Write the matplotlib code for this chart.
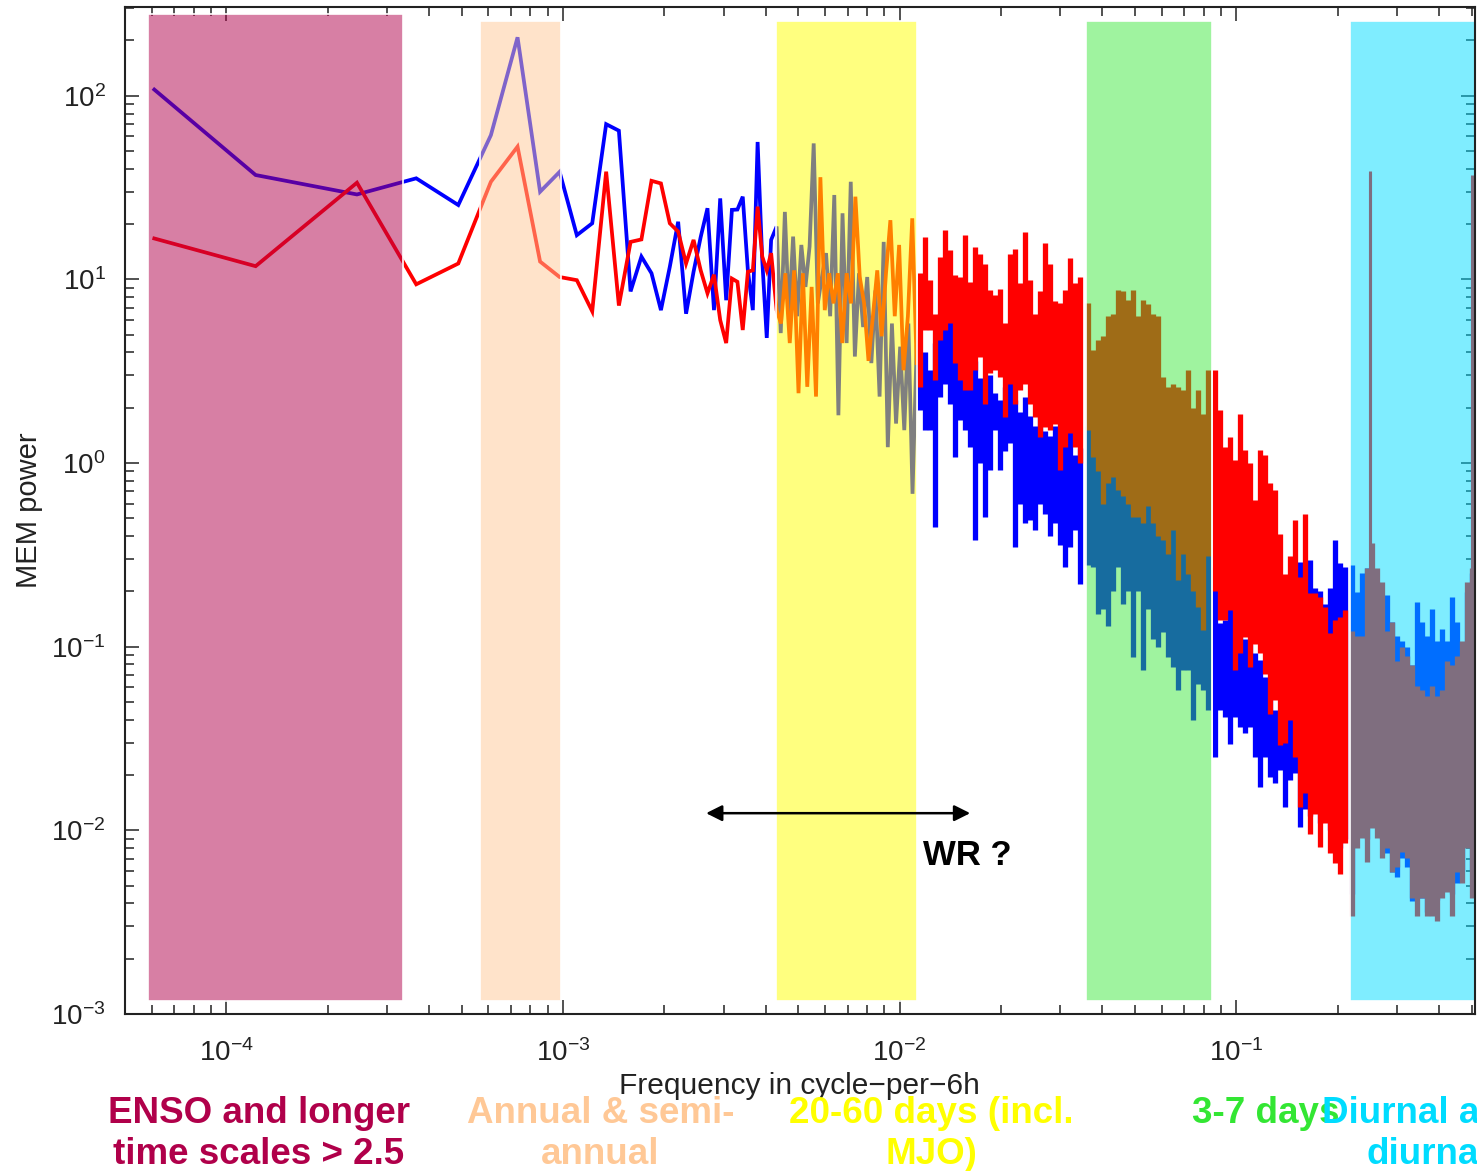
import numpy as np
import matplotlib
matplotlib.use("Agg")
import matplotlib.pyplot as plt
from matplotlib.colors import to_rgba

plt.rcParams['font.family'] = ['Liberation Sans', 'DejaVu Sans']
plt.rcParams['mathtext.default'] = 'regular'

# ------------------------------------------------------------------ data
# MEM spectra (power) vs frequency in cycle-per-6h
bin_width = 1.0 / 8192.0
low_bins = [0.5, 1, 2, 3, 4, 5, 6, 7, 8, 9, 10, 11, 12, 13, 14, 15, 16, 17,
            18, 19, 20, 21, 22, 23, 24, 25, 26, 27, 28, 29, 30, 31, 32, 33, 34]
blue_low = [108, 37, 29, 35.5, 25.4, 61, 208, 30, 38.5, 17.4, 20.2, 70, 64.5,
            8.6, 13.3, 10.8, 6.8, 11.7, 20.6, 6.5, 11, 17, 24.4, 6.8, 27.6,
            7.7, 23.9, 24, 28.2, 11.2, 6.8, 56, 12.7, 4.8, 16.4]
red_low = [16.7, 11.8, 33.6, 9.4, 12.2, 34, 52.8, 12.5, 10.3, 9.9, 6.7, 38.6,
           7.2, 16, 16.5, 34.4, 33.3, 20.2, 18.2, 12.2, 16.4, 11.2, 8.4, 10.6,
           6.0, 4.5, 10.1, 9.7, 5.3, 11, 11.2, 24.9, 13.3, 11.2, 13.9]

# 20-60 day window (individual oscillations still resolved)
mjo_freq_range = (4.31e-3, 1.123e-2)
blue_mjo = [19.4, 5.1, 23.3, 6.3, 17.1, 6.3, 15.4, 9.1, 15.1, 55, 7.4, 10.3,
            13.9, 6.3, 28.8, 1.82, 22.9, 4.5, 34, 3.8, 10.8, 5.5, 10.3, 3.5,
            8.7, 2.3, 16, 1.22, 5.75, 1.64, 4.3, 1.51, 5.75, 0.68, 4.3]
red_mjo = [6.8, 5.75, 10.8, 4.5, 11.2, 2.4, 10.8, 2.6, 9.1, 2.3, 36, 6.8, 10.8,
           7.4, 10.8, 4.5, 10.8, 7.4, 28.2, 10.3, 7.4, 3.6, 6.3, 11.2, 4.9,
           10.8, 21, 6.3, 15.4, 3.2, 6.3, 21.5, 3.5]

# dense part: lower / upper excursion of each spectrum per frequency column
dense_b_range = (0.01149, 0.0343)
red_hi_b = [10.8, 17.1, 9.9, 6.5, 13.3, 18.6, 14.4, 10.6, 10.3, 17.4, 9.7, 15.1,
            13.8, 12.2, 8.7, 8.2, 8.9, 5.8, 13.8, 14.7, 9.5, 18.2, 9.9, 6.5, 8.6,
            15.7, 12.2, 7.6, 7.4, 8.7, 13.0, 9.5, 10.3]
red_lo_b = [2.6, 5.3, 5.3, 2.83, 4.7, 5.3, 5.8, 3.5, 2.83, 2.5, 2.5, 3.2, 3.8,
            2.1, 3.1, 3.2, 2.95, 1.79, 2.71, 2.1, 2.5, 2.71, 2.1, 1.79, 1.39,
            1.58, 1.51, 1.64, 0.915, 1.23, 1.45, 1.23, 1.0]
blue_hi_b = [3.5, 4.0, 3.2, 4.5, 6.5, 8.0, 7.0, 4.0, 3.2, 3.5, 2.8, 3.6, 2.9,
             2.6, 3.0, 2.4, 2.2, 2.6, 3.1, 2.2, 1.9, 2.3, 1.8, 1.6, 2.0, 1.5,
             1.4, 1.6, 1.2, 1.3, 1.5, 1.1, 1.2]
blue_lo_b = [1.94, 1.51, 1.51, 0.45, 2.3, 2.71, 2.1, 1.08, 1.71, 1.51, 1.23,
             0.38, 1.0, 0.51, 0.915, 1.51, 0.915, 1.17, 1.28, 0.35, 0.60, 0.47,
             0.49, 0.43, 0.60, 0.53, 0.40, 0.47, 0.36, 0.27, 0.35, 0.43, 0.22]

dense_c_range = (0.03624, 0.0823)
red_hi_c = [7.4, 4.1, 4.7, 4.9, 6.3, 6.5, 8.7, 8.6, 7.7, 8.7, 6.3, 7.7, 7.3,
            6.5, 6.3, 2.95, 2.6, 2.7, 2.6, 2.5, 3.2, 2.0, 2.5, 1.86, 3.2]
red_lo_c = [1.51, 1.08, 0.91, 0.60, 0.78, 0.84, 0.71, 0.66, 0.60, 0.51, 0.51,
            0.47, 0.58, 0.47, 0.40, 0.38, 0.32, 0.43, 0.23, 0.32, 0.25, 0.20,
            0.165, 0.123, 0.31]
blue_hi_c = [1.6, 1.3, 1.0, 0.75, 0.9, 1.2, 0.8, 0.75, 1.08, 0.91, 0.6, 0.55,
             0.88, 0.55, 0.48, 0.45, 0.71, 0.5, 0.3, 0.38, 0.3, 0.25, 0.2,
             0.16, 0.35]
blue_lo_c = [0.28, 0.27, 0.15, 0.16, 0.13, 0.20, 0.27, 0.17, 0.20, 0.088, 0.20,
             0.075, 0.16, 0.11, 0.10, 0.12, 0.088, 0.078, 0.058, 0.075, 0.075,
             0.040, 0.063, 0.058, 0.045]

dense_d_range = (0.0864, 0.2102)
red_hi_d = [3.2, 1.94, 1.23, 1.39, 1.04, 1.86, 1.18, 1.0, 0.63, 1.18, 1.10,
            0.78, 0.71, 0.41, 0.25, 0.31, 0.49, 0.24, 0.53, 0.195, 0.195,
            0.187, 0.165, 0.118, 0.14, 0.146, 0.158]
red_lo_d = [0.2, 0.14, 0.14, 0.158, 0.075, 0.092, 0.113, 0.078, 0.104, 0.092,
            0.071, 0.043, 0.051, 0.029, 0.030, 0.040, 0.025, 0.0134, 0.0159,
            0.0096, 0.0123, 0.0081, 0.0109, 0.0075, 0.0066, 0.0058, 0.0085]
blue_hi_d = [0.272, 0.134, 0.14, 0.165, 0.11, 0.122, 0.11, 0.104, 0.092, 0.085,
             0.068, 0.056, 0.045, 0.037, 0.040, 0.13, 0.25, 0.29, 0.24, 0.296,
             0.21, 0.2, 0.17, 0.21, 0.38, 0.287, 0.27]
blue_lo_d = [0.0251, 0.045, 0.0415, 0.0297, 0.0415, 0.0366, 0.0337, 0.0366,
             0.0251, 0.0173, 0.0251, 0.0196, 0.018, 0.0213, 0.0134, 0.0188,
             0.0204, 0.0104, 0.013, 0.012, 0.014, 0.011, 0.012, 0.010, 0.009,
             0.008, 0.009]

dense_e_range = (0.2206, 0.5)
red_hi_e = [0.121, 0.114, 0.114, 0.269, 0.366, 0.269, 0.224, 0.121, 0.137,
            0.084, 0.10, 0.089, 0.079, 0.061, 0.058, 0.054, 0.061, 0.054,
            0.058, 0.084, 0.079, 0.089, 0.107, 0.224, 0.269]
red_lo_e = [0.0034, 0.008, 0.0091, 0.0067, 0.0103, 0.0091, 0.0071, 0.008,
            0.0059, 0.0063, 0.0076, 0.0071, 0.0043, 0.0034, 0.0043, 0.0034,
            0.0034, 0.0032, 0.0043, 0.0046, 0.0034, 0.0059, 0.0052, 0.008,
            0.0043]
blue_hi_e = [0.278, 0.198, 0.253, 0.269, 0.236, 0.224, 0.186, 0.192, 0.137,
             0.114, 0.107, 0.10, 0.079, 0.175, 0.137, 0.114, 0.16, 0.107,
             0.125, 0.107, 0.186, 0.137, 0.10, 0.198, 0.253]
blue_lo_e = [0.0045, 0.0095, 0.011, 0.009, 0.012, 0.011, 0.009, 0.0075, 0.0059,
             0.0056, 0.0071, 0.0063, 0.0041, 0.0043, 0.0043, 0.0036, 0.0036,
             0.0042, 0.005, 0.0055, 0.0045, 0.0052, 0.006, 0.0095, 0.006]

# diurnal and semi-diurnal peaks
tide_freq = [0.25, 0.5]
tide_base = [0.2, 0.2]
blue_tide_peak = [38, 36]
red_tide_peak = [39, 37]

# highlighted frequency windows
band_names = ['ENSO and longer\ntime scales > 2.5', 'Annual & semi-\nannual',
              '20-60 days (incl.\nMJO)', '3-7 days', 'Diurnal and semi-\ndiurnal']
band_f0 = [5.85e-5, 5.68e-4, 4.29e-3, 0.0358, 0.218]
band_f1 = [3.34e-4, 9.86e-4, 1.125e-2, 0.0847, 0.53]
band_top = [279, 255, 255, 255, 255]
band_bottom = 1.17e-3
band_colors = ['#B0004A', '#FFC896', '#FFFF00', '#33E633', '#00DCFF']
band_alpha = [0.5, 0.5, 0.5, 0.47, 0.5]

wr_range = (2.66e-3, 0.0162)
wr_level = 0.0124

# ------------------------------------------------------------------ figure
W, H = 1477, 1171
fig = plt.figure(figsize=(W / 100, H / 100), dpi=100)
ax = fig.add_axes([125 / W, (H - 1014) / H, (1474.5 - 125) / W, (1014 - 7.3) / H])
ax.set_xscale('log')
ax.set_yscale('log')
ax.set_xlim(4.995e-5, 0.5102)
ax.set_ylim(1e-3, 303)

BLUE = '#0000FF'
RED = '#FF0000'
LW = 2.7
COL_LW = 3.8

low_freq = np.array(low_bins) * bin_width


def dense(lo, hi, frange, color, z):
    f = np.geomspace(frange[0], frange[1], len(lo))
    ax.vlines(f, lo, hi, colors=color, lw=COL_LW, zorder=z)


# blue series
fm_b = np.geomspace(mjo_freq_range[0], mjo_freq_range[1], len(blue_mjo))
ax.plot(np.concatenate([low_freq, fm_b]), np.concatenate([blue_low, blue_mjo]),
        color=BLUE, lw=LW, zorder=2, solid_joinstyle='miter')
for lo, hi, rg in [(blue_lo_b, blue_hi_b, dense_b_range), (blue_lo_c, blue_hi_c, dense_c_range),
                   (blue_lo_d, blue_hi_d, dense_d_range), (blue_lo_e, blue_hi_e, dense_e_range)]:
    dense(lo, hi, rg, BLUE, 2)
ax.vlines(tide_freq, tide_base, blue_tide_peak, colors=BLUE, lw=2.2, zorder=2)

# red series
fm_r = np.geomspace(mjo_freq_range[0], mjo_freq_range[1], len(red_mjo))
ax.plot(np.concatenate([low_freq, fm_r]), np.concatenate([red_low, red_mjo]),
        color=RED, lw=LW, zorder=3, solid_joinstyle='miter')
for lo, hi, rg in [(red_lo_b, red_hi_b, dense_b_range), (red_lo_c, red_hi_c, dense_c_range),
                   (red_lo_d, red_hi_d, dense_d_range), (red_lo_e, red_hi_e, dense_e_range)]:
    dense(lo, hi, rg, RED, 3)
ax.vlines(tide_freq, tide_base, red_tide_peak, colors=RED, lw=2.2, zorder=3)

# translucent windows on top
for f0, f1, top, c, a in zip(band_f0, band_f1, band_top, band_colors, band_alpha):
    ax.fill_between([f0, f1], band_bottom, top, facecolor=to_rgba(c, a),
                    edgecolor='white', linewidth=1.2, zorder=4)

# WR arrow
ax.annotate('', xy=(wr_range[1], wr_level), xytext=(wr_range[0], wr_level),
            arrowprops=dict(arrowstyle='<|-|>', color='black', lw=1.8,
                            mutation_scale=24, shrinkA=0, shrinkB=0), zorder=6)
ax.text(0.01173, 0.00646, 'WR ?', fontsize=25, fontweight='bold',
        ha='left', va='baseline', color='black', zorder=6)

# axes styling
for s in ax.spines.values():
    s.set_linewidth(1.5)
    s.set_color('#222222')
    s.set_zorder(7)
ax.tick_params(which='both', direction='in', top=True, right=True,
               color='#222222', width=1.1)
ax.tick_params(which='major', length=10, labelsize=20, labelcolor='#222222')
ax.tick_params(which='minor', length=6.5)
ax.tick_params(axis='y', which='major', pad=14)
ax.tick_params(axis='x', which='major', pad=18)

ax.set_xlabel('Frequency in cycle\u2212per\u22126h', fontsize=21.5, color='#222222')
ax.xaxis.set_label_coords(0.5, -0.058)
ax.set_ylabel('MEM power', fontsize=21, color='#222222')
ax.yaxis.set_label_coords(-0.061, 0.5)

# window labels under the axis
lab_kw = dict(fontsize=26.5, fontweight='bold', va='baseline')
centers = [258.5, 600.5, 931]
y1, y2 = 1123, 1164
for name, cx, c in zip(band_names[:3], centers, band_colors[:3]):
    l1, l2 = name.split('\n')
    fig.text(cx / W, 1 - y1 / H, l1, ha='center', color=c, **lab_kw)
    fig.text(cx / W, 1 - y2 / H, l2, ha='center', color=c, **lab_kw)
fig.text(1192 / W, 1 - y1 / H, band_names[3], ha='left', color=band_colors[3], **lab_kw)
d1, d2 = band_names[4].split('\n')
fig.text(1322 / W, 1 - y1 / H, d1, ha='left', color=band_colors[4], **lab_kw)
fig.text(1367 / W, 1 - y2 / H, d2, ha='left', color=band_colors[4], **lab_kw)

fig.savefig('out.png', dpi=100)
